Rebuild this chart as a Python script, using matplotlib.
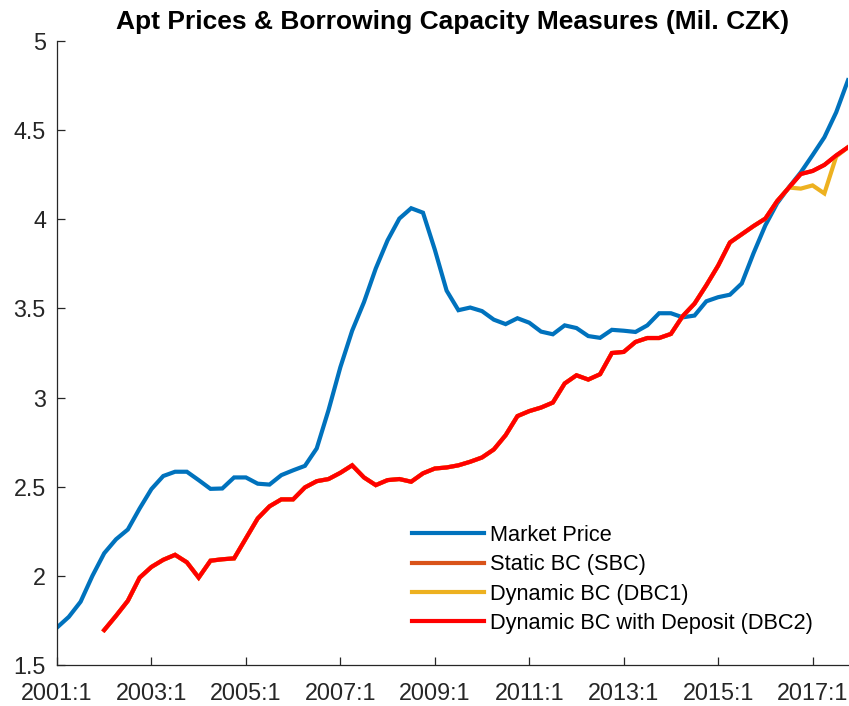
import numpy as np
import matplotlib
matplotlib.use("Agg")
import matplotlib.pyplot as plt
from matplotlib.ticker import FuncFormatter

plt.rcParams['font.family'] = ['Liberation Sans', 'DejaVu Sans']

# Quarterly data 2001:1 .. 2017:4 (Mil. CZK)
market_price = [1.71, 1.77, 1.855, 2.00, 2.127, 2.205, 2.26, 2.378, 2.487, 2.56,
                2.584, 2.584, 2.537, 2.488, 2.49, 2.552, 2.552, 2.517, 2.512, 2.565,
                2.592, 2.617, 2.715, 2.93, 3.17, 3.375, 3.535, 3.724, 3.882, 4.004,
                4.062, 4.037, 3.83, 3.60, 3.49, 3.505, 3.485, 3.437, 3.412, 3.445,
                3.42, 3.37, 3.355, 3.405, 3.39, 3.345, 3.335, 3.38, 3.375, 3.368,
                3.405, 3.473, 3.473, 3.45, 3.46, 3.54, 3.563, 3.577, 3.64, 3.81,
                3.966, 4.09, 4.18, 4.263, 4.36, 4.46, 4.60, 4.78]

dbc2 = [np.nan, np.nan, np.nan, np.nan, 1.696, 1.776, 1.86, 1.99, 2.05, 2.09,
        2.118, 2.076, 1.99, 2.085, 2.093, 2.098, 2.21, 2.322, 2.39, 2.429,
        2.429, 2.496, 2.531, 2.543, 2.578, 2.62, 2.552, 2.509, 2.537, 2.543,
        2.528, 2.575, 2.602, 2.608, 2.62, 2.64, 2.664, 2.709, 2.789, 2.896,
        2.924, 2.944, 2.972, 3.079, 3.125, 3.101, 3.131, 3.25, 3.256, 3.312,
        3.334, 3.334, 3.357, 3.457, 3.527, 3.63, 3.74, 3.87, 3.916, 3.962,
        4.004, 4.102, 4.178, 4.254, 4.271, 4.305, 4.358, 4.404]

sbc = [np.nan, np.nan, np.nan, np.nan, 1.696, 1.776, 1.86, 1.99, 2.05, 2.09,
       2.118, 2.076, 1.99, 2.085, 2.093, 2.098, 2.21, 2.322, 2.39, 2.429,
       2.429, 2.496, 2.531, 2.543, 2.578, 2.62, 2.552, 2.509, 2.537, 2.543,
       2.528, 2.575, 2.602, 2.608, 2.62, 2.64, 2.664, 2.709, 2.789, 2.896,
       2.924, 2.944, 2.972, 3.079, 3.125, 3.101, 3.131, 3.25, 3.256, 3.312,
       3.334, 3.334, 3.357, 3.457, 3.527, 3.63, 3.74, 3.87, 3.916, 3.962,
       4.004, 4.102, 4.178, 4.254, 4.271, 4.305, 4.358, 4.404]

dbc1 = [np.nan, np.nan, np.nan, np.nan, 1.696, 1.776, 1.86, 1.99, 2.05, 2.09,
        2.118, 2.076, 1.99, 2.085, 2.093, 2.098, 2.21, 2.322, 2.39, 2.429,
        2.429, 2.496, 2.531, 2.543, 2.578, 2.62, 2.552, 2.509, 2.537, 2.543,
        2.528, 2.575, 2.602, 2.608, 2.62, 2.64, 2.664, 2.709, 2.789, 2.896,
        2.924, 2.944, 2.972, 3.079, 3.125, 3.101, 3.131, 3.25, 3.256, 3.312,
        3.334, 3.334, 3.357, 3.457, 3.527, 3.63, 3.74, 3.87, 3.916, 3.962,
        4.004, 4.102, 4.178, 4.172, 4.19, 4.145, 4.352, 4.404]

tick_labels = ['2001:1', '2003:1', '2005:1', '2007:1', '2009:1',
               '2011:1', '2013:1', '2015:1', '2017:1']
labels = ['Market Price', 'Static BC (SBC)', 'Dynamic BC (DBC1)',
          'Dynamic BC with Deposit (DBC2)']
colors = ['#0072BD', '#D95319', '#EDB120', '#FF0000']

x = np.arange(len(market_price))

fig = plt.figure(figsize=(8.49, 7.06), dpi=100)
ax = fig.add_axes([57/849, 1-665/706, (848-57)/849, 624/706])

for series, lab, col in zip([market_price, sbc, dbc1, dbc2], labels, colors):
    ax.plot(x, series, color=col, lw=3.0, label=lab, solid_joinstyle='miter')

ax.set_xlim(0, 67)
ax.set_ylim(1.5, 5)
ax.set_xticks(np.arange(0, 65, 8))
ax.set_xticklabels(tick_labels)
ax.set_yticks(np.arange(1.5, 5.01, 0.5))
ax.yaxis.set_major_formatter(FuncFormatter(lambda v, p: '%g' % v))

gray = '#262626'
for s in ['top', 'right']:
    ax.spines[s].set_visible(False)
for s in ['left', 'bottom']:
    ax.spines[s].set_color(gray)
    ax.spines[s].set_linewidth(0.9)
ax.tick_params(direction='in', length=6, width=0.9, color=gray,
               labelcolor=gray, labelsize=16.8)
ax.tick_params(axis='y', pad=8)
ax.tick_params(axis='x', pad=12)

ax.set_title('Apt Prices & Borrowing Capacity Measures (Mil. CZK)',
             fontsize=19, fontweight='bold', pad=8.5)

leg = ax.legend(loc='upper left', bbox_to_anchor=(412/849, 1-525/706),
                bbox_transform=fig.transFigure, frameon=False,
                fontsize=15.7, handlelength=3.3, handletextpad=0.3,
                labelspacing=0.38, borderpad=0, borderaxespad=0)
for t in leg.get_texts():
    t.set_color('black')

fig.savefig('out.png', dpi=100)
